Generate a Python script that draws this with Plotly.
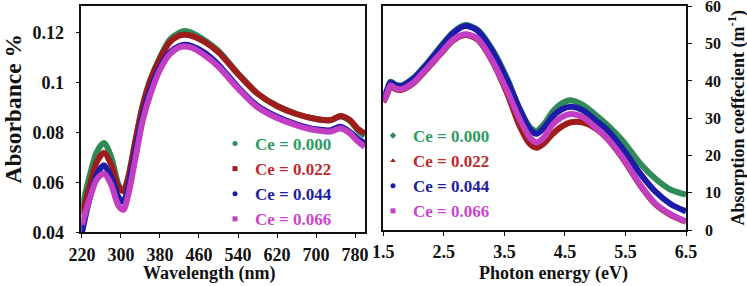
import plotly.graph_objects as go

# ---------------- data: left panel (absorbance vs wavelength) ----------------
wavelength = [220, 235, 250, 265, 280, 295, 305, 315, 330, 345, 360, 380, 400, 420, 430,
              445, 470, 500, 540, 580, 620, 660, 700, 730, 750, 770, 785, 800]
abs_000 = [0.050, 0.062, 0.072, 0.0757, 0.070, 0.059, 0.0565, 0.062, 0.077, 0.091, 0.101, 0.110,
           0.117, 0.1198, 0.1205, 0.1198, 0.117, 0.1125, 0.1035, 0.0955, 0.0905, 0.0873, 0.0853,
           0.0848, 0.0863, 0.0845, 0.081, 0.0785]
abs_022 = [0.047, 0.058, 0.068, 0.0718, 0.067, 0.058, 0.0565, 0.062, 0.077, 0.091, 0.1005, 0.1095,
           0.116, 0.1187, 0.119, 0.1186, 0.1163, 0.112, 0.1033, 0.0955, 0.0905, 0.0873, 0.0853,
           0.0849, 0.0865, 0.0848, 0.0815, 0.0795]
abs_044 = [0.040, 0.053, 0.063, 0.0668, 0.062, 0.054, 0.0522, 0.058, 0.073, 0.087, 0.097, 0.106,
           0.112, 0.1145, 0.115, 0.1145, 0.112, 0.107, 0.098, 0.0905, 0.0862, 0.0832, 0.0812,
           0.0808, 0.0822, 0.080, 0.0775, 0.0755]
abs_066 = [0.043, 0.053, 0.061, 0.0635, 0.059, 0.0505, 0.049, 0.055, 0.070, 0.085, 0.095, 0.105,
           0.1112, 0.114, 0.1143, 0.1138, 0.111, 0.1062, 0.0975, 0.090, 0.0857, 0.0828, 0.0808,
           0.0803, 0.0815, 0.0795, 0.0765, 0.0742]

# ---------------- data: right panel (absorption coefficient vs photon energy) ----------------
energy = [1.5, 1.56, 1.62, 1.7, 1.8, 2.0, 2.2, 2.45, 2.65, 2.85, 3.05, 3.3, 3.55, 3.75, 3.92,
          4.03, 4.15, 4.3, 4.45, 4.6, 4.8, 5.0, 5.2, 5.45, 5.75, 6.0, 6.25, 6.5]
coef_000 = [35.5, 37.5, 39.8, 39.0, 38.8, 40.8, 44.3, 49.3, 53.0, 55.0, 53.8, 48.5, 40.5, 32.5,
            27.6, 26.6, 28.3, 31.8, 34.0, 34.8, 33.5, 31.0, 28.2, 24.0, 17.7, 13.7, 10.8, 9.5]
coef_022 = [34.3, 36.3, 38.6, 37.8, 37.6, 39.4, 42.8, 47.3, 50.8, 52.3, 51.2, 45.3, 36.5, 28.0,
            23.1, 22.1, 23.2, 25.8, 27.8, 28.9, 28.8, 27.3, 24.5, 19.3, 11.8, 6.8, 4.0, 2.2]
coef_044 = [35.2, 37.3, 39.6, 38.8, 38.6, 40.6, 44.1, 49.0, 52.8, 54.7, 53.6, 48.0, 40.0, 32.5,
            27.1, 25.8, 27.3, 30.5, 32.4, 33.1, 32.1, 29.5, 26.8, 21.9, 15.0, 10.2, 6.9, 5.0]
coef_066 = [34.5, 36.5, 38.8, 38.0, 37.8, 39.6, 43.0, 47.5, 51.0, 52.5, 51.5, 45.5, 37.2, 29.8,
            24.9, 23.5, 24.8, 28.3, 30.3, 31.1, 30.2, 27.6, 24.6, 19.5, 12.0, 7.0, 4.2, 2.3]

series_labels = ["Ce = 0.000", "Ce = 0.022", "Ce = 0.044", "Ce = 0.066"]
left_values = [abs_000, abs_022, abs_044, abs_066]
right_values = [coef_000, coef_022, coef_044, coef_066]

line_colors = ["#2f8a55", "#9e1c1c", "#1c1ca8", "#c23ec2"]
text_colors = ["#2e9c62", "#c0282d", "#1e1e9e", "#cc44cc"]
left_symbols = ["circle", "square", "circle", "square"]
right_symbols = ["diamond", "triangle-up", "circle", "square"]

FONT = "'Liberation Serif', 'Times New Roman', Times, serif"
W, H = 747, 286

fig = go.Figure()

for i in range(4):
    fig.add_trace(go.Scatter(
        x=wavelength, y=left_values[i], mode="lines",
        line=dict(color=line_colors[i], width=6, shape="spline", smoothing=0.8),
        xaxis="x", yaxis="y", showlegend=False, hoverinfo="skip"))
for i in range(4):
    fig.add_trace(go.Scatter(
        x=energy, y=right_values[i], mode="lines",
        line=dict(color=line_colors[i], width=6, shape="spline", smoothing=0.8),
        xaxis="x2", yaxis="y2", showlegend=False, hoverinfo="skip"))

# legend entries
for i in range(4):
    fig.add_trace(go.Scatter(
        x=[None], y=[None], mode="markers",
        marker=dict(symbol=left_symbols[i], size=5, color=line_colors[i]),
        name=f"<span style='color:{text_colors[i]}'><b>{series_labels[i]}</b></span>",
        legend="legend", legendgroup=f"l{i}", xaxis="x", yaxis="y"))
for i in range(4):
    fig.add_trace(go.Scatter(
        x=[None], y=[None], mode="markers",
        marker=dict(symbol=right_symbols[i], size=5, color=line_colors[i]),
        name=f"<span style='color:{text_colors[i]}'><b>{series_labels[i]}</b></span>",
        legend="legend2", legendgroup=f"r{i}", xaxis="x2", yaxis="y2"))


def axis_style(size, standoff):
    return dict(showline=True, linecolor="#111111", linewidth=1.6, mirror=True,
                ticks="outside", ticklen=4, tickwidth=1.4, tickcolor="#111111",
                showgrid=False, zeroline=False, automargin=False,
                ticklabelstandoff=standoff, ticklabeloverflow="allow",
                tickfont=dict(family=FONT, size=size, color="#111111", weight="bold"))


fig.update_layout(
    width=W, height=H, margin=dict(l=0, r=0, t=0, b=0, autoexpand=False),
    paper_bgcolor="white", plot_bgcolor="white",
    font=dict(family=FONT, color="#111111"),
    xaxis=dict(domain=[81.3 / W, 365 / W], range=[218.6, 800.5], tick0=220, dtick=80,
               anchor="y", **axis_style(18, 1)),
    yaxis=dict(domain=[(H - 232.3) / H, (H - 6) / H], range=[0.04, 0.1305], tick0=0.04,
               dtick=0.02, anchor="x", **axis_style(18, 8)),
    xaxis2=dict(domain=[383.3 / W, 686 / W], range=[1.5, 6.5], tick0=1.5, dtick=1,
                anchor="y2", **axis_style(18, 1)),
    yaxis2=dict(domain=[(H - 230) / H, (H - 6) / H], range=[0, 60.1], tick0=0, dtick=10,
                side="right", anchor="x2", **axis_style(16, 10)),
    legend=dict(x=215 / W, y=(H - 126) / H, xanchor="left", yanchor="top",
                bgcolor="rgba(0,0,0,0)", tracegroupgap=0,
                font=dict(family=FONT, size=17)),
    legend2=dict(x=373 / W, y=(H - 118) / H, xanchor="left", yanchor="top",
                 bgcolor="rgba(0,0,0,0)", tracegroupgap=0,
                 font=dict(family=FONT, size=17)),
)

title_font = dict(family=FONT, color="#111111", weight="bold")
fig.add_annotation(text="<b>Absorbance %</b>", x=12.5 / W, y=(H - 109) / H, xref="paper",
                   yref="paper", textangle=-90, showarrow=False,
                   font=dict(size=23.5, **title_font), xanchor="center", yanchor="middle")
fig.add_annotation(text="<b>Wavelength (nm)</b>", x=209 / W, y=(H - 273) / H, xref="paper",
                   yref="paper", showarrow=False, font=dict(size=18, **title_font),
                   xanchor="center", yanchor="middle")
fig.add_annotation(text="<b>Photon energy (eV)</b>", x=553 / W, y=(H - 273) / H, xref="paper",
                   yref="paper", showarrow=False, font=dict(size=18, **title_font),
                   xanchor="center", yanchor="middle")
fig.add_annotation(text="<b>Absorption coeffecient (m<sup>-1</sup>)</b>", x=737 / W,
                   y=(H - 118.5) / H, xref="paper", yref="paper", textangle=-90,
                   showarrow=False, font=dict(size=18, **title_font),
                   xanchor="center", yanchor="middle")

fig.write_html("out.html", config={"displayModeBar": False},
               post_script="document.body.style.margin='0';document.body.style.overflow='hidden';")
